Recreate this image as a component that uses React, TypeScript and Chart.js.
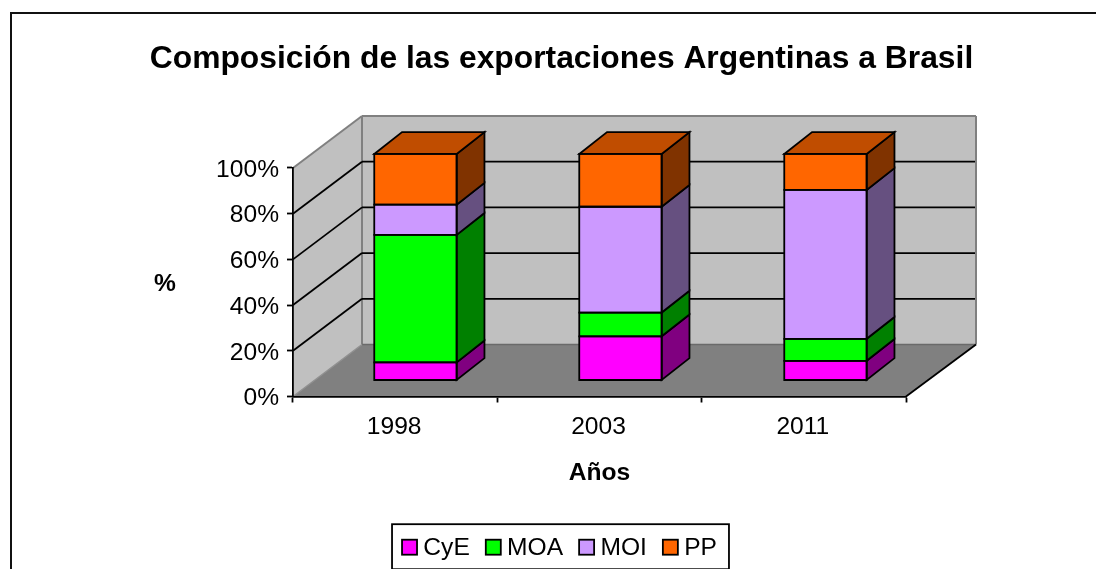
import React, { useEffect, useRef } from "react";
import { Chart, registerables } from "chart.js";

Chart.register(...registerables);

const titleText = "Composición de las exportaciones Argentinas a Brasil";
const xAxisTitle = "Años";
const yAxisTitle = "%";
const categories = ["1998", "2003", "2011"];
const cye = [8, 19.5, 8.7];
const moa = [56.3, 10.5, 9.7];
const moi = [13.3, 46.7, 65.7];
const pp = [22.4, 23.3, 15.9];

const FONT = "'Liberation Sans', Arial, sans-serif";
const TICK_SIZE = 24.6;
const W = 1096;
const H = 569;

const faceColors: Record<string, { side: string; top: string }> = {
  CyE: { side: "#800080", top: "#C000C0" },
  MOA: { side: "#008000", top: "#00C000" },
  MOI: { side: "#665080", top: "#997ABF" },
  PP: { side: "#803300", top: "#C04D00" },
};

const DEPTH_X = 69;
const DEPTH_Y = -52;
const BAR_DEPTH_X = 27.7;
const BAR_DEPTH_Y = -22;
const BAR_SX = 1.00328;
const BAR_TX = 19;
const BAR_SY = 226 / 228;
const BAR_TY = -12.53;
const LINE = 1.8;
const LEGEND_SHIFT_X = -2;
const LEGEND_SHIFT_Y = -1;

function poly(ctx: CanvasRenderingContext2D, pts: number[][], fill: string | null, stroke: string | null, lw = LINE) {
  ctx.beginPath();
  pts.forEach((p, i) => (i ? ctx.lineTo(p[0], p[1]) : ctx.moveTo(p[0], p[1])));
  ctx.closePath();
  if (fill) {
    ctx.fillStyle = fill;
    ctx.fill();
  }
  if (stroke) {
    ctx.strokeStyle = stroke;
    ctx.lineWidth = lw;
    ctx.lineJoin = "miter";
    ctx.stroke();
  }
}

function line(ctx: CanvasRenderingContext2D, x1: number, y1: number, x2: number, y2: number, color: string, lw: number) {
  ctx.beginPath();
  ctx.moveTo(x1, y1);
  ctx.lineTo(x2, y2);
  ctx.strokeStyle = color;
  ctx.lineWidth = lw;
  ctx.stroke();
}

const wallsPlugin = {
  id: "walls",
  afterLayout(chart: any) {
    const l = chart.legend;
    l.left += LEGEND_SHIFT_X;
    l.right += LEGEND_SHIFT_X;
    l.top += LEGEND_SHIFT_Y;
    l.bottom += LEGEND_SHIFT_Y;
    l.legendHitBoxes.forEach((b: any) => {
      b.left += LEGEND_SHIFT_X;
      b.top += LEGEND_SHIFT_Y;
    });
  },
  beforeDraw(chart: any) {
    const { ctx, chartArea: a, scales } = chart;
    ctx.save();
    ctx.fillStyle = "#ffffff";
    ctx.fillRect(0, 0, W, H);
    // outer frame of the picture
    line(ctx, 11, 13, W, 13, "#111111", 2);
    line(ctx, 11, 12, 11, H, "#111111", 2);

    const backL = a.left + DEPTH_X;
    const backR = a.right + DEPTH_X + 1;
    const backT = a.top + DEPTH_Y;
    const backB = a.bottom + DEPTH_Y;

    poly(ctx, [[backL, backT], [backR, backT], [backR, backB], [backL, backB]], "#C0C0C0", null);
    poly(ctx, [[a.left, a.top], [backL, backT], [backL, backB], [a.left, a.bottom]], "#C0C0C0", null);
    poly(ctx, [[a.left, a.bottom], [a.right, a.bottom], [backR, backB], [backL, backB]], "#808080", null);

    // wall edges
    line(ctx, a.left, a.top, backL, backT, "#808080", 2);
    line(ctx, backL, backT, backR, backT, "#808080", 2);
    line(ctx, backR, backT, backR, backB, "#808080", 2);
    line(ctx, backL, backT, backL, backB, "#808080", 2);
    line(ctx, backL, backB, backR, backB, "#6a6a6a", 1.5);
    line(ctx, a.left, a.bottom, backL, backB, "#909090", 1.5);
    line(ctx, a.right, a.bottom, backR, backB, "#000000", LINE);

    // gridlines on the side wall and the back wall
    scales.y.ticks.forEach((t: any) => {
      if (t.value <= 0 || t.value >= 100) return;
      const y = scales.y.getPixelForValue(t.value);
      line(ctx, a.left, y, backL, y + DEPTH_Y, "#000000", LINE);
      line(ctx, backL, y + DEPTH_Y, backR - 1, y + DEPTH_Y, "#000000", LINE);
    });
    ctx.restore();
  },
  beforeDatasetsDraw(chart: any) {
    const { ctx } = chart;
    ctx.save();
    ctx.transform(BAR_SX, 0, 0, BAR_SY, BAR_TX, BAR_TY);
  },
  afterDatasetsDraw(chart: any) {
    const { ctx } = chart;
    const last = chart.data.datasets.length - 1;
    chart.data.datasets.forEach((ds: any, i: number) => {
      const meta = chart.getDatasetMeta(i);
      const c = faceColors[ds.label];
      meta.data.forEach((el: any) => {
        const right = el.x + el.width / 2;
        const left = el.x - el.width / 2;
        const side = [
          [right, el.y],
          [right + BAR_DEPTH_X, el.y + BAR_DEPTH_Y],
          [right + BAR_DEPTH_X, el.base + BAR_DEPTH_Y],
          [right, el.base],
        ];
        poly(ctx, side, c.side, "#000000");
        poly(ctx, [[left, el.y], [right, el.y], [right, el.base], [left, el.base]], null, "#000000");
        if (i === last) {
          poly(
            ctx,
            [
              [left, el.y],
              [left + BAR_DEPTH_X, el.y + BAR_DEPTH_Y],
              [right + BAR_DEPTH_X, el.y + BAR_DEPTH_Y],
              [right, el.y],
            ],
            c.top,
            "#000000"
          );
        }
      });
    });
    ctx.restore();
  },
  afterDraw(chart: any) {
    const { ctx, legend } = chart;
    ctx.save();
    // upright y axis title
    ctx.font = `bold ${TICK_SIZE}px ${FONT}`;
    ctx.fillStyle = "#000000";
    ctx.textAlign = "center";
    ctx.textBaseline = "middle";
    ctx.fillText(yAxisTitle, 165, chart.scales.y.getPixelForValue(50) + 2);

    // legend frame and full-size swatches
    const boxes = legend.legendHitBoxes;
    const first = boxes[0];
    const lastBox = boxes[boxes.length - 1];
    const cy = first.top + first.height / 2;
    ctx.strokeStyle = "#000000";
    ctx.lineWidth = LINE;
    ctx.strokeRect(first.left - 10, cy - 23, lastBox.left + lastBox.width - first.left + 22, 45);
    boxes.forEach((b: any, i: number) => {
      const ds = chart.data.datasets[i];
      ctx.fillStyle = ds.backgroundColor;
      ctx.fillRect(b.left, cy - 7.5, 15, 15);
      ctx.strokeRect(b.left, cy - 7.5, 15, 15);
    });
    ctx.restore();
  },
};

export default function App() {
  const ref = useRef<HTMLCanvasElement>(null);

  useEffect(() => {
    const makeDs = (label: string, data: number[], color: string) => ({
      label,
      data,
      backgroundColor: color,
      borderColor: "#000000",
      borderWidth: 0,
      borderSkipped: false,
      clip: false,
      barPercentage: 0.402,
      categoryPercentage: 1,
    });
    const chart = new Chart(ref.current as HTMLCanvasElement, {
      type: "bar",
      data: {
        labels: categories,
        datasets: [
          makeDs("CyE", cye, "#FF00FF"),
          makeDs("MOA", moa, "#00FF00"),
          makeDs("MOI", moi, "#CC99FF"),
          makeDs("PP", pp, "#FF6600"),
        ],
      },
      plugins: [wallsPlugin],
      options: {
        responsive: false,
        animation: false,
        layout: { padding: { left: 27, right: 0, top: 0, bottom: -2.5 } },
        plugins: {
          tooltip: { enabled: false },
          title: {
            display: true,
            text: titleText,
            color: "#000000",
            font: { family: FONT, size: 31.8, weight: "bold", lineHeight: 1.2 },
            padding: { top: 40, bottom: 89.8 },
          },
          legend: {
            display: true,
            position: "bottom",
            labels: {
              color: "#000000",
              font: { family: FONT, size: TICK_SIZE },
              boxWidth: 9,
              boxHeight: 10,
              padding: 16,
            },
          },
        },
        scales: {
          x: {
            stacked: true,
            afterFit: (s: any) => {
              s.height = 124.4;
            },
            grid: {
              display: true,
              offset: true,
              drawOnChartArea: false,
              drawTicks: true,
              tickLength: 6,
              tickWidth: LINE,
              tickColor: "#000000",
            },
            border: { display: true, color: "#000000", width: LINE },
            ticks: {
              color: "#000000",
              font: { family: FONT, size: TICK_SIZE },
              padding: 9.5,
              labelOffset: -1,
              maxRotation: 0,
            },
            title: {
              display: true,
              text: xAxisTitle,
              color: "#000000",
              font: { family: FONT, size: TICK_SIZE, weight: "bold", lineHeight: 1.2 },
              padding: { top: 0, bottom: 33.1 },
            },
          },
          y: {
            stacked: true,
            min: 0,
            max: 100,
            afterFit: (s: any) => {
              s.width = 266;
            },
            grid: {
              display: true,
              drawOnChartArea: false,
              drawTicks: true,
              tickLength: 6,
              tickWidth: LINE,
              tickColor: "#000000",
            },
            border: { display: true, color: "#000000", width: LINE },
            ticks: {
              stepSize: 20,
              color: "#000000",
              font: { family: FONT, size: TICK_SIZE },
              padding: 8,
              labelOffset: 2,
              callback: (v: any) => `${v}%`,
            },
          },
          y1: {
            position: "right",
            display: true,
            afterFit: (s: any) => {
              s.width = 190;
            },
            grid: { display: false },
            border: { display: false },
            ticks: { display: false },
          },
        },
      } as any,
    });
    return () => chart.destroy();
  }, []);

  return (
    <div style={{ position: "absolute", left: 0, top: 0, width: W, height: H, background: "#fff" }}>
      <canvas ref={ref} width={W} height={H} style={{ display: "block" }} />
    </div>
  );
}
